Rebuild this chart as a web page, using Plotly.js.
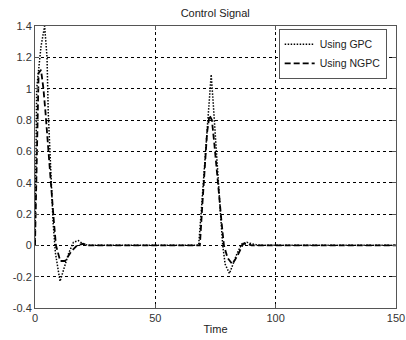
<!DOCTYPE html>
<html>
<head>
<meta charset="utf-8">
<script src="https://cdn.plot.ly/plotly-3.0.1.min.js"></script>
<style>html,body{margin:0;padding:0;background:#fff;}#chart{width:406px;height:340px;}</style>
</head>
<body>
<div id="chart"></div>
<script>
// Using GPC (dotted)
var tGPC = [0, 0.3, 0.7, 1.5, 2.5, 4, 5, 5.5, 6.5, 7.5, 8.5, 10.4, 12, 14, 16, 18, 20, 22, 40, 60, 68, 69, 70, 71, 72, 73.2, 74, 75, 76, 77, 78, 79, 80.8, 82, 84, 86, 88, 90, 93, 110, 130, 150];
var yGPC = [0, 0.6, 1.0, 1.12, 1.27, 1.4, 1.2, 0.85, 0.45, 0.15, -0.05, -0.23, -0.15, -0.05, 0.02, 0.03, 0.01, 0, 0, 0, 0, 0.2, 0.42, 0.65, 0.88, 1.09, 0.92, 0.67, 0.45, 0.22, 0.0, -0.12, -0.18, -0.13, -0.05, 0.01, 0.02, 0.01, 0, 0, 0, 0];
// Using NGPC (dashed)
var tNGPC = [0, 0.8, 1.5, 2.5, 3.5, 4.3, 5.5, 6.5, 7.8, 8.7, 10.5, 12.5, 15, 17.5, 20, 22, 40, 60, 68.5, 69.5, 70.5, 71.5, 72.5, 73.5, 74.5, 75.5, 76.5, 77.5, 78.5, 80, 82, 84, 86.5, 88, 90, 110, 130, 150];
var yNGPC = [0, 0.5, 1.1, 1.12, 1.0, 0.86, 0.6, 0.4, 0.16, 0, -0.1, -0.1, -0.04, 0, 0.01, 0, 0, 0, 0, 0.25, 0.5, 0.72, 0.83, 0.8, 0.65, 0.5, 0.32, 0.15, 0, -0.08, -0.12, -0.07, 0.01, 0.01, 0, 0, 0, 0];
var xTicks = [0, 50, 100, 150];
var yTicks = [-0.4, -0.2, 0, 0.2, 0.4, 0.6, 0.8, 1, 1.2, 1.4];
var yTickText = ['-0.4', '-0.2', '0', '0.2', '0.4', '0.6', '0.8', '1', '1.2', '1.4'];

var traces = [
  {x: tGPC, y: yGPC, mode: 'lines', name: 'Using GPC',
   line: {color: '#000', width: 1.5, dash: '1.5px,1.5px'}},
  {x: tNGPC, y: yNGPC, mode: 'lines', name: 'Using NGPC',
   line: {color: '#000', width: 1.8, dash: '6px,3px'}}
];
var axisCommon = {
  automargin: false,
  showline: true, mirror: 'ticks', linecolor: '#555', linewidth: 1,
  ticks: 'inside', ticklen: 4, tickcolor: '#555',
  showgrid: true, gridcolor: '#000', gridwidth: 1, griddash: '3px,3px',
  zeroline: false, tickfont: {family: 'Liberation Sans, Arial, sans-serif', size: 11, color: '#333'}
};
var layout = {
  width: 406, height: 340,
  margin: {l: 35, r: 10, t: 26, b: 32, autoexpand: false},
  paper_bgcolor: '#fff', plot_bgcolor: '#fff',
  font: {family: 'Liberation Sans, Arial, sans-serif', size: 11, color: '#222'},
  title: {text: 'Control Signal', x: 0.53, xanchor: 'center', y: 0.962, yanchor: 'middle',
          font: {size: 11, color: '#222'}},
  xaxis: Object.assign({}, axisCommon, {range: [0, 150], tickvals: xTicks, ticktext: xTicks.map(String),
          title: {text: 'Time', standoff: 2, font: {size: 11, color: '#222'}}}),
  yaxis: Object.assign({}, axisCommon, {range: [-0.4, 1.4], tickvals: yTicks, ticktext: yTickText}),
  showlegend: true,
  legend: {x: 0.675, y: 0.99, xanchor: 'left', yanchor: 'top', bgcolor: '#fff',
           bordercolor: '#555', borderwidth: 1, font: {size: 10.5, color: '#222'},
           tracegroupgap: 0, itemwidth: 30}
};
Plotly.newPlot('chart', traces, layout, {displayModeBar: false, staticPlot: true});
</script>
</body>
</html>
